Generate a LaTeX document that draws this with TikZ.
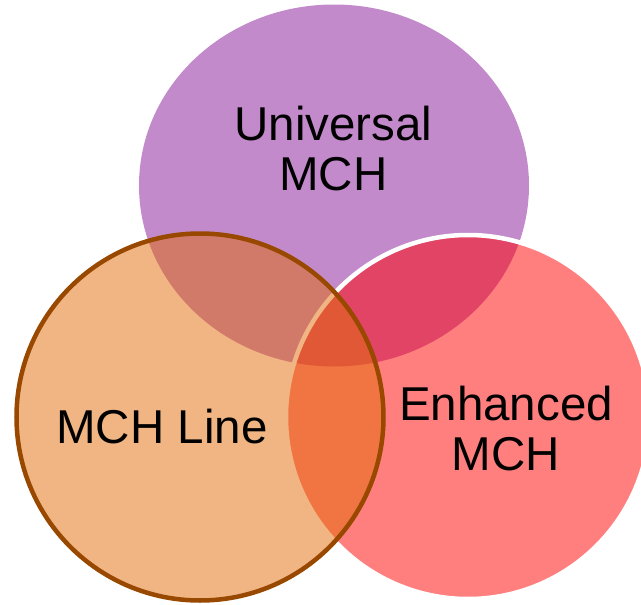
\documentclass[tikz,border=0pt]{standalone}
\usepackage{fontspec}
\setmainfont{Liberation Sans}
\definecolor{vpurple}{RGB}{195,138,203}
\definecolor{vred}{RGB}{255,0,0}
\definecolor{vorange}{RGB}{226,108,8}
\definecolor{vbrown}{RGB}{153,72,0}
\tikzset{
  lbl/.style={align=center, text=black, font=\fontsize{47.5}{50}\selectfont, inner sep=0pt}
}
\begin{document}
\begin{tikzpicture}[x=1pt,y=-1pt]
\useasboundingbox (0,0) rectangle (641,605);
\begin{scope}
\clip (0,0) rectangle (641,605);
\path[fill=vpurple] (334,185.5) ellipse [x radius=195, y radius=181];
\path[fill=vred, fill opacity=0.5, draw=white, line width=4.5pt] (468,417) circle [radius=182];
\path[fill=vorange, fill opacity=0.5, draw=vbrown, line width=4.5pt] (200,417) circle [radius=183.5];
\end{scope}
\node[lbl] (univ) at (333.5,148.5) {Universal\\MCH};
\node[lbl] (enh) at (506,428.5) {Enhanced\\MCH};
\node[lbl] (line) at (162,426.5) {MCH Line};
\end{tikzpicture}
\end{document}
